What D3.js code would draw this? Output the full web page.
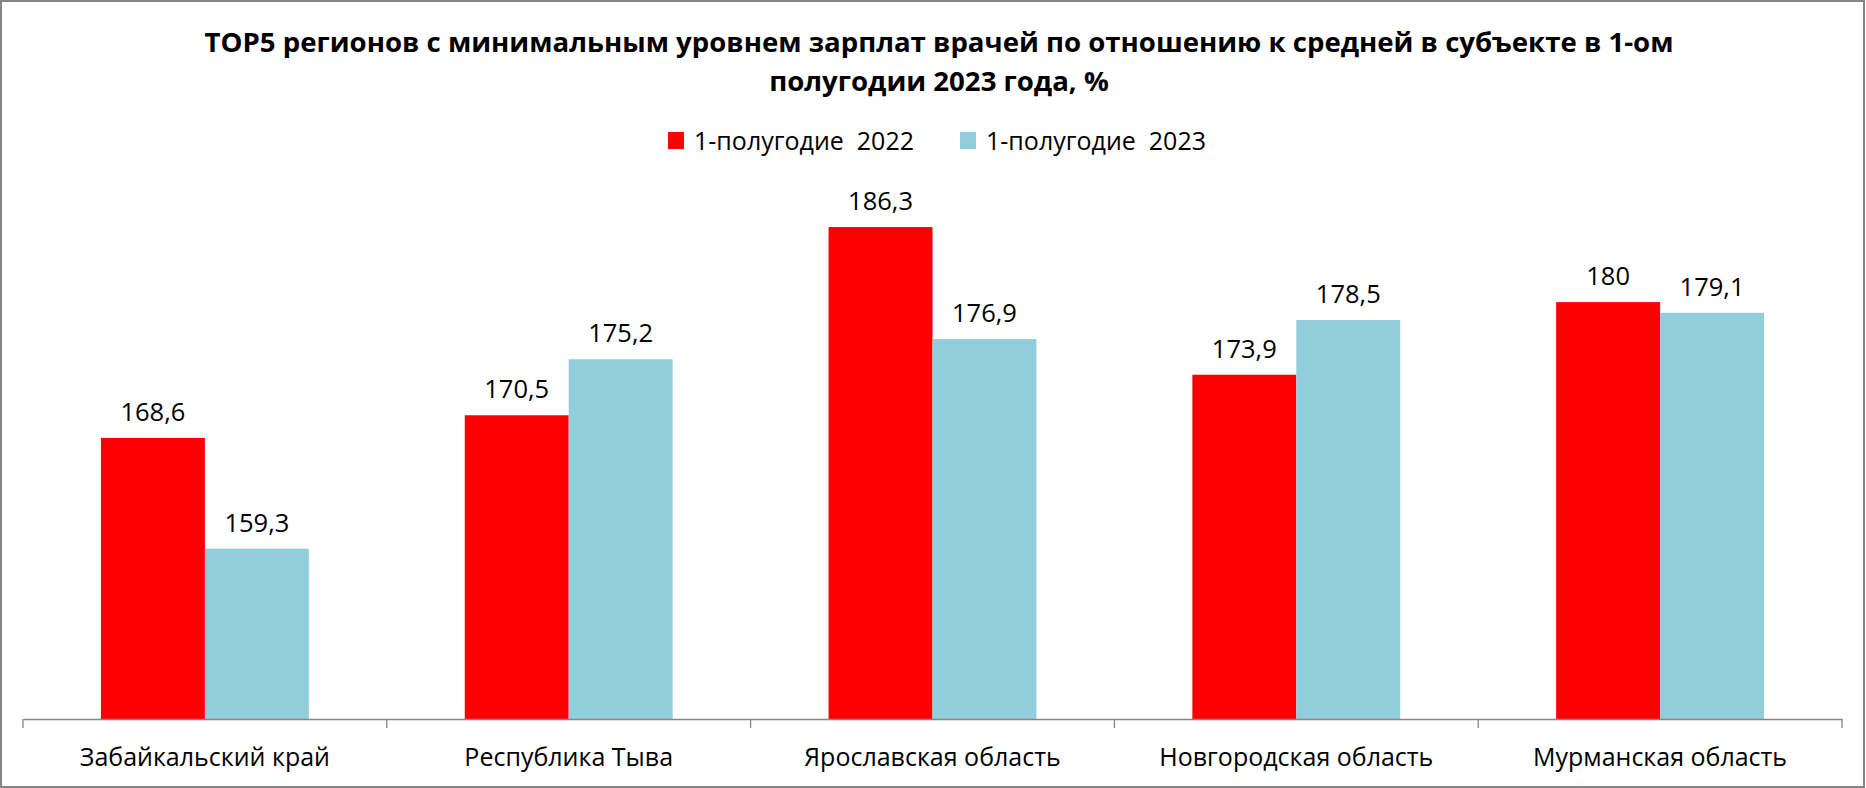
<!DOCTYPE html>
<html><head><meta charset="utf-8">
<script src="https://cdn.jsdelivr.net/npm/d3@7"></script>
<style>html,body{margin:0;padding:0;background:#fff;overflow:hidden}</style>
</head><body>
<svg id="c" width="1866" height="788"></svg>
<script>
const titleLines = ["TOP5 регионов с минимальным уровнем зарплат врачей по отношению к средней в субъекте в 1-ом", "полугодии 2023 года, %"];
const categories = ["Забайкальский край", "Республика Тыва", "Ярославская область", "Новгородская область", "Мурманская область"];
const seriesNames = ["1-полугодие  2022", "1-полугодие  2023"];
const values2022 = [168.6, 170.5, 186.3, 173.9, 180];
const values2023 = [159.3, 175.2, 176.9, 178.5, 179.1];
const yDomain = [145, 190];
const colors = ["#FF0000", "#92CDDC"];

const svg = d3.select("#c");
const W = 1866, H = 788;
const font = "'Open Sans', 'Noto Sans', sans-serif";
svg.append("rect").attr("x",1).attr("y",1).attr("width",W-3).attr("height",H-2)
  .attr("fill","#fff").attr("stroke","#868686").attr("stroke-width",2);

const x0 = d3.scaleBand().domain(categories).range([23, 1842]).paddingInner(0).paddingOuter(0);
const x1 = d3.scaleBand().domain([0,1]).range([0, x0.bandwidth()]).paddingInner(0).paddingOuter(0.75);
const y = d3.scaleLinear().domain(yDomain).range([719, 183]);

const series = [values2022, values2023];
const g = svg.append("g");
series.forEach((vals, si) => {
  g.selectAll(".b"+si).data(vals).enter().append("rect")
    .attr("x", (d,i)=> x0(categories[i]) + x1(si))
    .attr("width", x1.bandwidth())
    .attr("y", d => y(d))
    .attr("height", d => y(yDomain[0]) - y(d))
    .attr("fill", colors[si]);
  g.selectAll(".l"+si).data(vals).enter().append("text")
    .attr("x", (d,i)=> x0(categories[i]) + x1(si) + x1.bandwidth()/2)
    .attr("y", d => y(d) - 17)
    .attr("text-anchor","middle")
    .style("font-family", font).style("font-size","25.5px").attr("fill","#000")
    .text(d => String(d).replace(".", ","));
});

// axis
const axis = d3.axisBottom(x0).tickSize(0).tickFormat("");
const ag = svg.append("g").attr("transform","translate(0,719)").call(axis);
ag.select(".domain").attr("stroke","#868686").attr("stroke-width",1.3);
const bounds = categories.map(c=>x0(c)).concat([x0.range()[1]]);
ag.selectAll(".sep").data(bounds).enter().append("line")
  .attr("x1", d=>d).attr("x2", d=>d).attr("y1",0).attr("y2",9)
  .attr("stroke","#868686").attr("stroke-width",1.3);
svg.selectAll(".cat").data(categories).enter().append("text")
  .attr("x", d => x0(d) + x0.bandwidth()/2).attr("y", 766)
  .attr("text-anchor","middle")
  .style("font-family", font).style("font-size","25px").attr("fill","#000")
  .text(d=>d);

// title
svg.selectAll(".title").data(titleLines).enter().append("text")
  .attr("x", 939).attr("y", (d,i)=> 52 + i*39)
  .attr("text-anchor","middle")
  .style("font-family", font).style("font-size","27.6px").style("font-weight","bold").attr("fill","#000")
  .text(d=>d);

// legend
const legX = [668, 960];
seriesNames.forEach((n, i) => {
  svg.append("rect").attr("x", legX[i]).attr("y",132).attr("width",16).attr("height",17).attr("fill",colors[i]);
  svg.append("text").attr("x", legX[i]+26).attr("y",150)
    .style("font-family", font).style("font-size","25px").style("white-space","pre").attr("xml:space","preserve").attr("fill","#000")
    .text(n);
});
</script>
</body></html>
